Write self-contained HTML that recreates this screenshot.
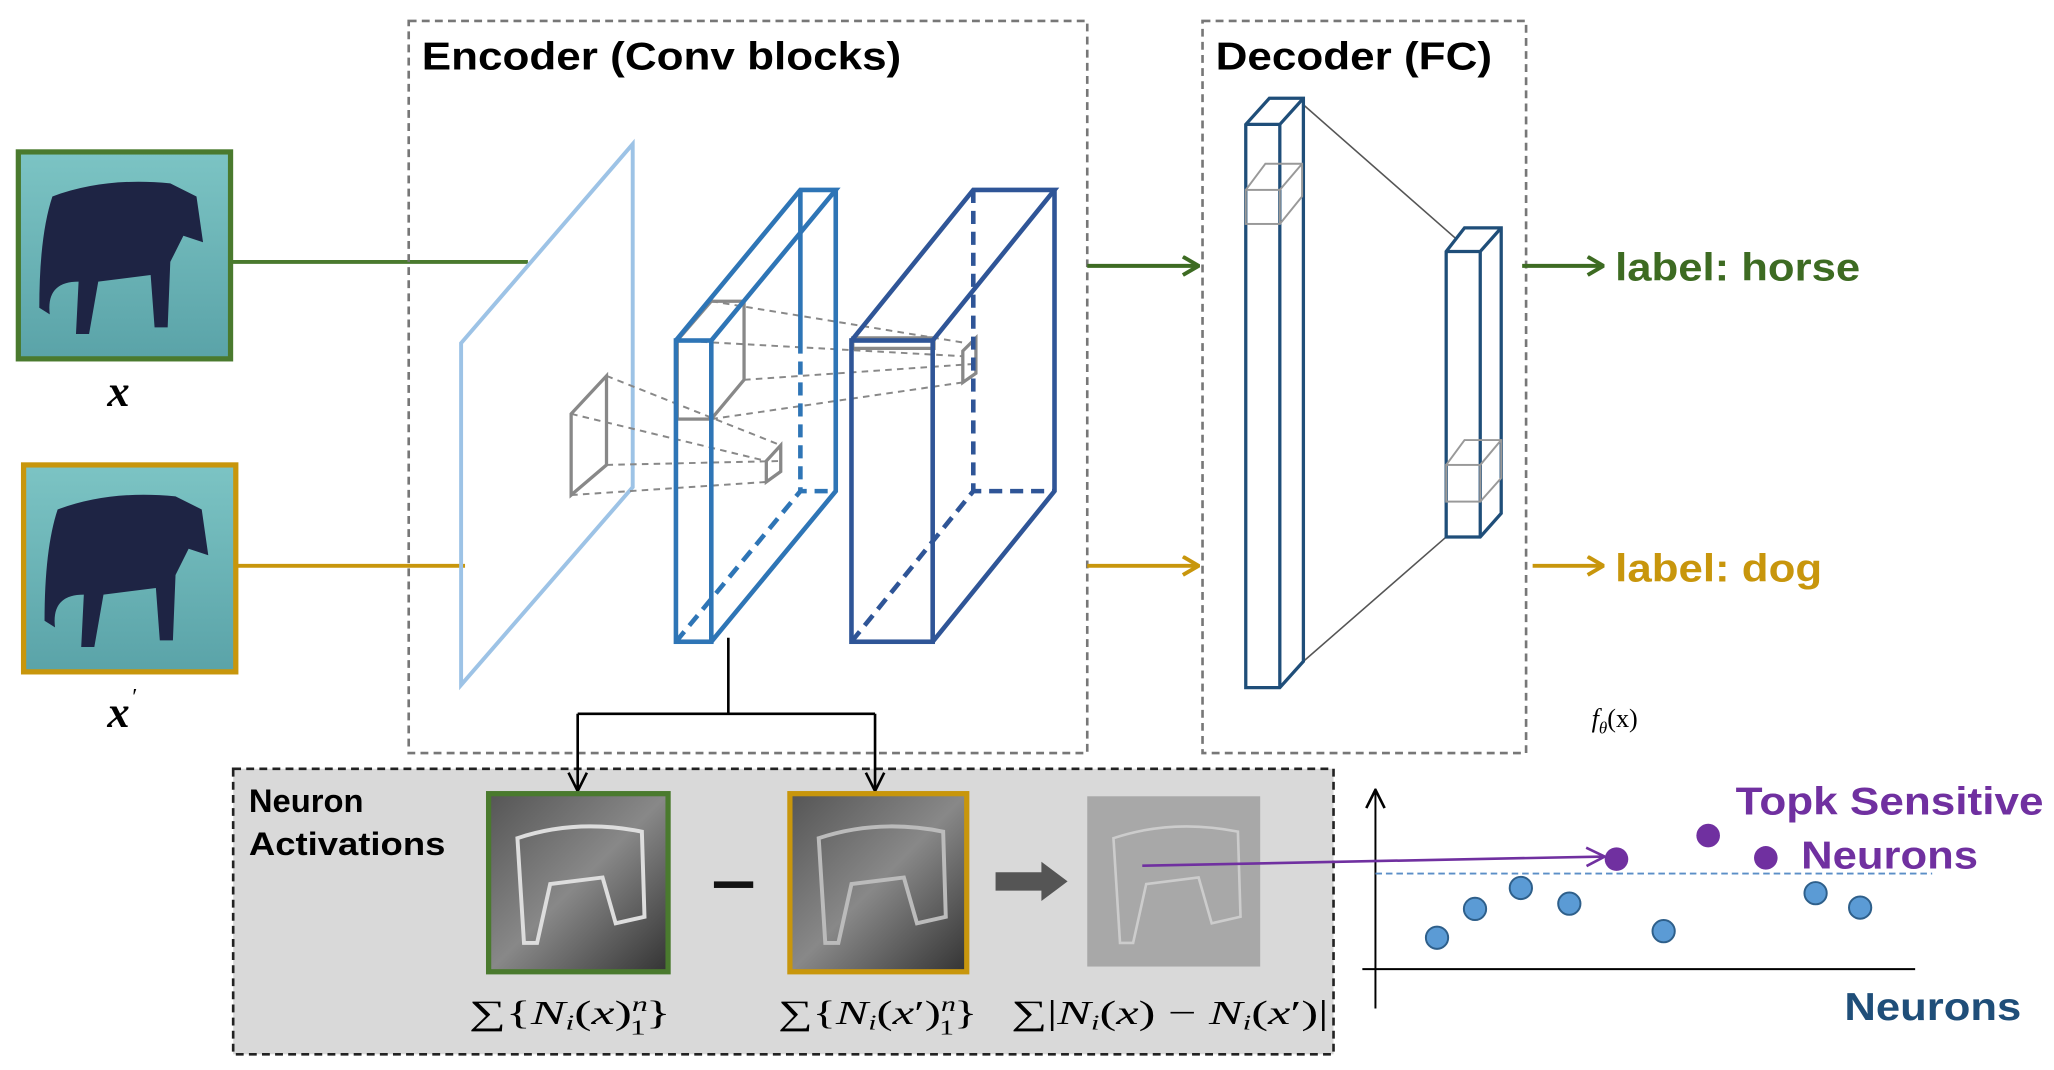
<!DOCTYPE html>
<html><head><meta charset="utf-8"><style>html,body{margin:0;padding:0;background:#fff}svg{display:block}</style></head>
<body>
<svg width="2054" height="1070" viewBox="0 0 1568 817" preserveAspectRatio="none" xmlns="http://www.w3.org/2000/svg" font-family="Liberation Sans, sans-serif">
<defs>
<linearGradient id="sky" x1="0" y1="0" x2="0" y2="1"><stop offset="0" stop-color="#7cc4c4"/><stop offset="1" stop-color="#5aa3a8"/></linearGradient>
<linearGradient id="act" x1="0" y1="0" x2="1" y2="1"><stop offset="0" stop-color="#555"/><stop offset="0.5" stop-color="#888"/><stop offset="1" stop-color="#333"/></linearGradient>
<marker id="ag" markerWidth="14" markerHeight="16" refX="13" refY="8" orient="auto" markerUnits="userSpaceOnUse"><path d="M1,1 L13,8 L1,15" fill="none" stroke="#3d6b22" stroke-width="3"/></marker>
<marker id="ao" markerWidth="14" markerHeight="16" refX="13" refY="8" orient="auto" markerUnits="userSpaceOnUse"><path d="M1,1 L13,8 L1,15" fill="none" stroke="#c8960c" stroke-width="3"/></marker>
<marker id="ab" markerWidth="16" markerHeight="16" refX="15" refY="8" orient="auto" markerUnits="userSpaceOnUse"><path d="M1,1 L15,8 L1,15" fill="none" stroke="#000" stroke-width="2"/></marker>
<marker id="ap" markerWidth="16" markerHeight="16" refX="15" refY="8" orient="auto" markerUnits="userSpaceOnUse"><path d="M1,1 L15,8 L1,15" fill="none" stroke="#7030a0" stroke-width="2"/></marker>
</defs>

<g>
<rect x="14" y="116" width="162" height="158" fill="url(#sky)" stroke="#4a7a2e" stroke-width="4"/>
<path d="M40,150 Q80,135 130,140 L150,150 L155,185 L140,180 L130,200 L128,250 L118,250 L115,210 L75,215 L68,255 L58,255 L60,215 Q35,215 38,240 L30,235 Q30,180 40,150Z" fill="#1e2444"/>
<rect x="18" y="355" width="162" height="158" fill="url(#sky)" stroke="#c8960c" stroke-width="4"/>
<path d="M44,389 Q84,374 134,379 L154,389 L159,424 L144,419 L134,439 L132,489 L122,489 L119,449 L79,454 L72,494 L62,494 L64,454 Q39,454 42,479 L34,474 Q34,419 44,389Z" fill="#1e2444"/>
<text x="82" y="310" font-family="Liberation Serif, serif" font-style="italic" font-weight="bold" font-size="34">x</text>
<text x="82" y="555" font-family="Liberation Serif, serif" font-style="italic" font-weight="bold" font-size="34">x</text>
<text x="101" y="538" font-family="Liberation Serif, serif" font-size="18">′</text>
</g>
<line x1="176" y1="200" x2="403" y2="200" stroke="#4a7a2e" stroke-width="3"/>
<line x1="180" y1="432" x2="355" y2="432" stroke="#c8960c" stroke-width="3"/>

<rect x="312" y="16" width="518" height="559" fill="none" stroke="#777" stroke-width="2" stroke-dasharray="6,4"/>
<text x="322" y="53" font-weight="bold" font-size="30" textLength="366" lengthAdjust="spacingAndGlyphs">Encoder (Conv blocks)</text>
<rect x="918" y="16" width="247" height="559" fill="none" stroke="#777" stroke-width="2" stroke-dasharray="6,4"/>
<text x="928" y="53" font-weight="bold" font-size="30" textLength="211" lengthAdjust="spacingAndGlyphs">Decoder (FC)</text>

<polygon points="352,262 483,110 483,372 352,523" fill="none" stroke="#9dc3e6" stroke-width="3"/>

<g stroke="#888" fill="none" stroke-width="1.5" stroke-dasharray="5,4">
<line x1="463" y1="287" x2="596" y2="340"/><line x1="463" y1="355" x2="596" y2="352"/><line x1="436" y1="316" x2="585" y2="352"/><line x1="436" y1="378" x2="585" y2="368"/>
<line x1="543" y1="230" x2="738" y2="262"/><line x1="568" y1="290" x2="742" y2="278"/><line x1="517" y1="260" x2="735" y2="272"/><line x1="543" y1="320" x2="735" y2="292"/>
</g>
<g stroke="#888" fill="none" stroke-width="2.5">
<polygon points="436,316 463,287 463,355 436,378"/>
<polygon points="585,352 596,340 596,360 585,368"/>
<rect x="517" y="260" width="26" height="60"/><polyline points="517,260 543,230 568,230 568,290 543,320"/><line x1="543" y1="260" x2="568" y2="230"/>
<rect x="651" y="258" width="62" height="8"/>
<polygon points="735,268 745,258 745,285 735,292"/>
</g>

<g stroke="#2e75b6" stroke-width="3.5" fill="none">
<rect x="516" y="260" width="27" height="230"/>
<polyline points="516,260 611,145 638,145 543,260"/>
<line x1="611" y1="145" x2="611" y2="260"/>
<polyline points="638,145 638,375 543,490"/>
<g stroke-dasharray="10,6"><line x1="611" y1="260" x2="611" y2="375"/><polyline points="516,490 611,375 638,375"/></g>
</g>
<g stroke="#2f5597" stroke-width="3.5" fill="none">
<rect x="650" y="260" width="62" height="230"/>
<polyline points="650,260 743,145 805,145 712,260"/>
<polyline points="805,145 805,375 712,490"/>
<g stroke-dasharray="10,6"><line x1="743" y1="145" x2="743" y2="375"/><polyline points="650,490 743,375 805,375"/></g>
</g>

<line x1="830" y1="203" x2="915" y2="203" stroke="#3d6b22" stroke-width="3" marker-end="url(#ag)"/>
<line x1="830" y1="432" x2="915" y2="432" stroke="#c8960c" stroke-width="3" marker-end="url(#ao)"/>

<line x1="995" y1="80" x2="1118" y2="188" stroke="#555" stroke-width="1.2"/>
<line x1="995" y1="505" x2="1104" y2="410" stroke="#555" stroke-width="1.2"/>
<g stroke="#1f4e79" stroke-width="2.5" fill="#fff">
<polygon points="951,95 969,75 995,75 995,505 977,525 951,525"/>
<polyline points="951,95 977,95 995,75" fill="none"/><line x1="977" y1="95" x2="977" y2="525"/>
<polygon points="1104,192 1118,174 1146,174 1146,392 1130,410 1104,410"/>
<polyline points="1104,192 1130,192 1146,174" fill="none"/><line x1="1130" y1="192" x2="1130" y2="410"/>
</g>
<g stroke="#999" stroke-width="1.5" fill="none">
<rect x="951" y="145" width="26" height="26"/><polyline points="951,145 966,125 994,125 994,150 977,171"/><line x1="977" y1="145" x2="994" y2="125"/>
<rect x="1104" y="355" width="26" height="28"/><polyline points="1104,355 1118,336 1146,336 1146,365 1130,383"/><line x1="1130" y1="355" x2="1146" y2="336"/>
</g>
<line x1="1162" y1="203" x2="1224" y2="203" stroke="#3d6b22" stroke-width="3" marker-end="url(#ag)"/>
<text x="1233" y="214" font-weight="bold" font-size="30" fill="#3d6b22" textLength="187" lengthAdjust="spacingAndGlyphs">label: horse</text>
<line x1="1170" y1="432" x2="1224" y2="432" stroke="#c8960c" stroke-width="3" marker-end="url(#ao)"/>
<text x="1233" y="444" font-weight="bold" font-size="30" fill="#c8960c" textLength="158" lengthAdjust="spacingAndGlyphs">label: dog</text>
<text x="1215" y="555" font-family="Liberation Serif, serif" font-size="20"><tspan font-style="italic">f</tspan><tspan font-size="13" font-style="italic" dy="5">θ</tspan><tspan dy="-5">(x)</tspan></text>

<rect x="178" y="587" width="840" height="218" fill="#d9d9d9" stroke="#222" stroke-width="2" stroke-dasharray="6,4"/>
<text x="190" y="620" font-weight="bold" font-size="25">Neuron</text>
<text x="190" y="653" font-weight="bold" font-size="25" textLength="150" lengthAdjust="spacingAndGlyphs">Activations</text>
<g stroke="#000" stroke-width="2" fill="none">
<line x1="556" y1="487" x2="556" y2="545"/><line x1="441" y1="545" x2="668" y2="545"/>
<line x1="441" y1="545" x2="441" y2="604" marker-end="url(#ab)"/><line x1="668" y1="545" x2="668" y2="604" marker-end="url(#ab)"/>
</g>
<rect x="373" y="606" width="137" height="136" fill="url(#act)" stroke="#4a7a2e" stroke-width="4"/>
<path d="M395,640 Q440,625 490,635 L492,700 L470,705 L460,670 L420,675 L410,720 L400,720 Z" fill="none" stroke="#ddd" stroke-width="3"/>
<rect x="603" y="606" width="135" height="136" fill="url(#act)" stroke="#c8960c" stroke-width="4"/>
<path d="M625,640 Q670,625 720,635 L722,700 L700,705 L690,670 L650,675 L640,720 L630,720 Z" fill="none" stroke="#bbb" stroke-width="3"/>
<rect x="830" y="608" width="132" height="130" fill="#a8a8a8"/>
<path d="M850,640 Q895,625 945,635 L947,700 L925,705 L915,670 L875,675 L865,720 L855,720 Z" fill="none" stroke="#ccc" stroke-width="2"/>
<rect x="545" y="673" width="30" height="5" fill="#111"/>
<polygon points="760,666 795,666 795,658 815,673 795,688 795,680 760,680" fill="#555"/>
<g font-family="Liberation Serif, serif" font-size="26">
<text x="358" y="782" textLength="154" lengthAdjust="spacingAndGlyphs">∑{<tspan font-style="italic">N</tspan><tspan font-size="16" font-style="italic" dy="4">i</tspan><tspan dy="-4">(</tspan><tspan font-style="italic">x</tspan>)<tspan font-size="16" dy="-10" font-style="italic">n</tspan><tspan font-size="16" dx="-9" dy="18">1</tspan><tspan dy="-8">}</tspan></text>
<text x="594" y="782" textLength="152" lengthAdjust="spacingAndGlyphs">∑{<tspan font-style="italic">N</tspan><tspan font-size="16" font-style="italic" dy="4">i</tspan><tspan dy="-4">(</tspan><tspan font-style="italic">x</tspan>′)<tspan font-size="16" dy="-10" font-style="italic">n</tspan><tspan font-size="16" dx="-9" dy="18">1</tspan><tspan dy="-8">}</tspan></text>
<text x="772" y="782" textLength="242" lengthAdjust="spacingAndGlyphs">∑|<tspan font-style="italic">N</tspan><tspan font-size="16" font-style="italic" dy="4">i</tspan><tspan dy="-4">(</tspan><tspan font-style="italic">x</tspan>) − <tspan font-style="italic">N</tspan><tspan font-size="16" font-style="italic" dy="4">i</tspan><tspan dy="-4">(</tspan><tspan font-style="italic">x</tspan>′)|</text>
</g>

<line x1="1050" y1="770" x2="1050" y2="603" stroke="#000" stroke-width="1.5" marker-end="url(#ab)"/>
<line x1="1040" y1="740" x2="1462" y2="740" stroke="#000" stroke-width="1.5"/>
<line x1="1050" y1="667" x2="1475" y2="667" stroke="#5b8fc7" stroke-width="1.5" stroke-dasharray="5,3"/>
<line x1="872" y1="661" x2="1225" y2="654" stroke="#7030a0" stroke-width="2" marker-end="url(#ap)"/>
<g fill="#5b9bd5" stroke="#2e5f8a" stroke-width="1.5">
<circle cx="1097" cy="716" r="8.5"/><circle cx="1126" cy="694" r="8.5"/><circle cx="1161" cy="678" r="8.5"/><circle cx="1198" cy="690" r="8.5"/><circle cx="1270" cy="711" r="8.5"/><circle cx="1386" cy="682" r="8.5"/><circle cx="1420" cy="693" r="8.5"/>
</g>
<g fill="#7030a0"><circle cx="1234" cy="656" r="9"/><circle cx="1304" cy="638" r="9"/><circle cx="1348" cy="655" r="9"/></g>
<text x="1325" y="622" font-weight="bold" font-size="30" fill="#7030a0" textLength="235" lengthAdjust="spacingAndGlyphs">Topk Sensitive</text>
<text x="1375" y="663" font-weight="bold" font-size="30" fill="#7030a0" textLength="135" lengthAdjust="spacingAndGlyphs">Neurons</text>
<text x="1408" y="779" font-weight="bold" font-size="30" fill="#1f4e79" textLength="135" lengthAdjust="spacingAndGlyphs">Neurons</text>
</svg>
</body></html>
